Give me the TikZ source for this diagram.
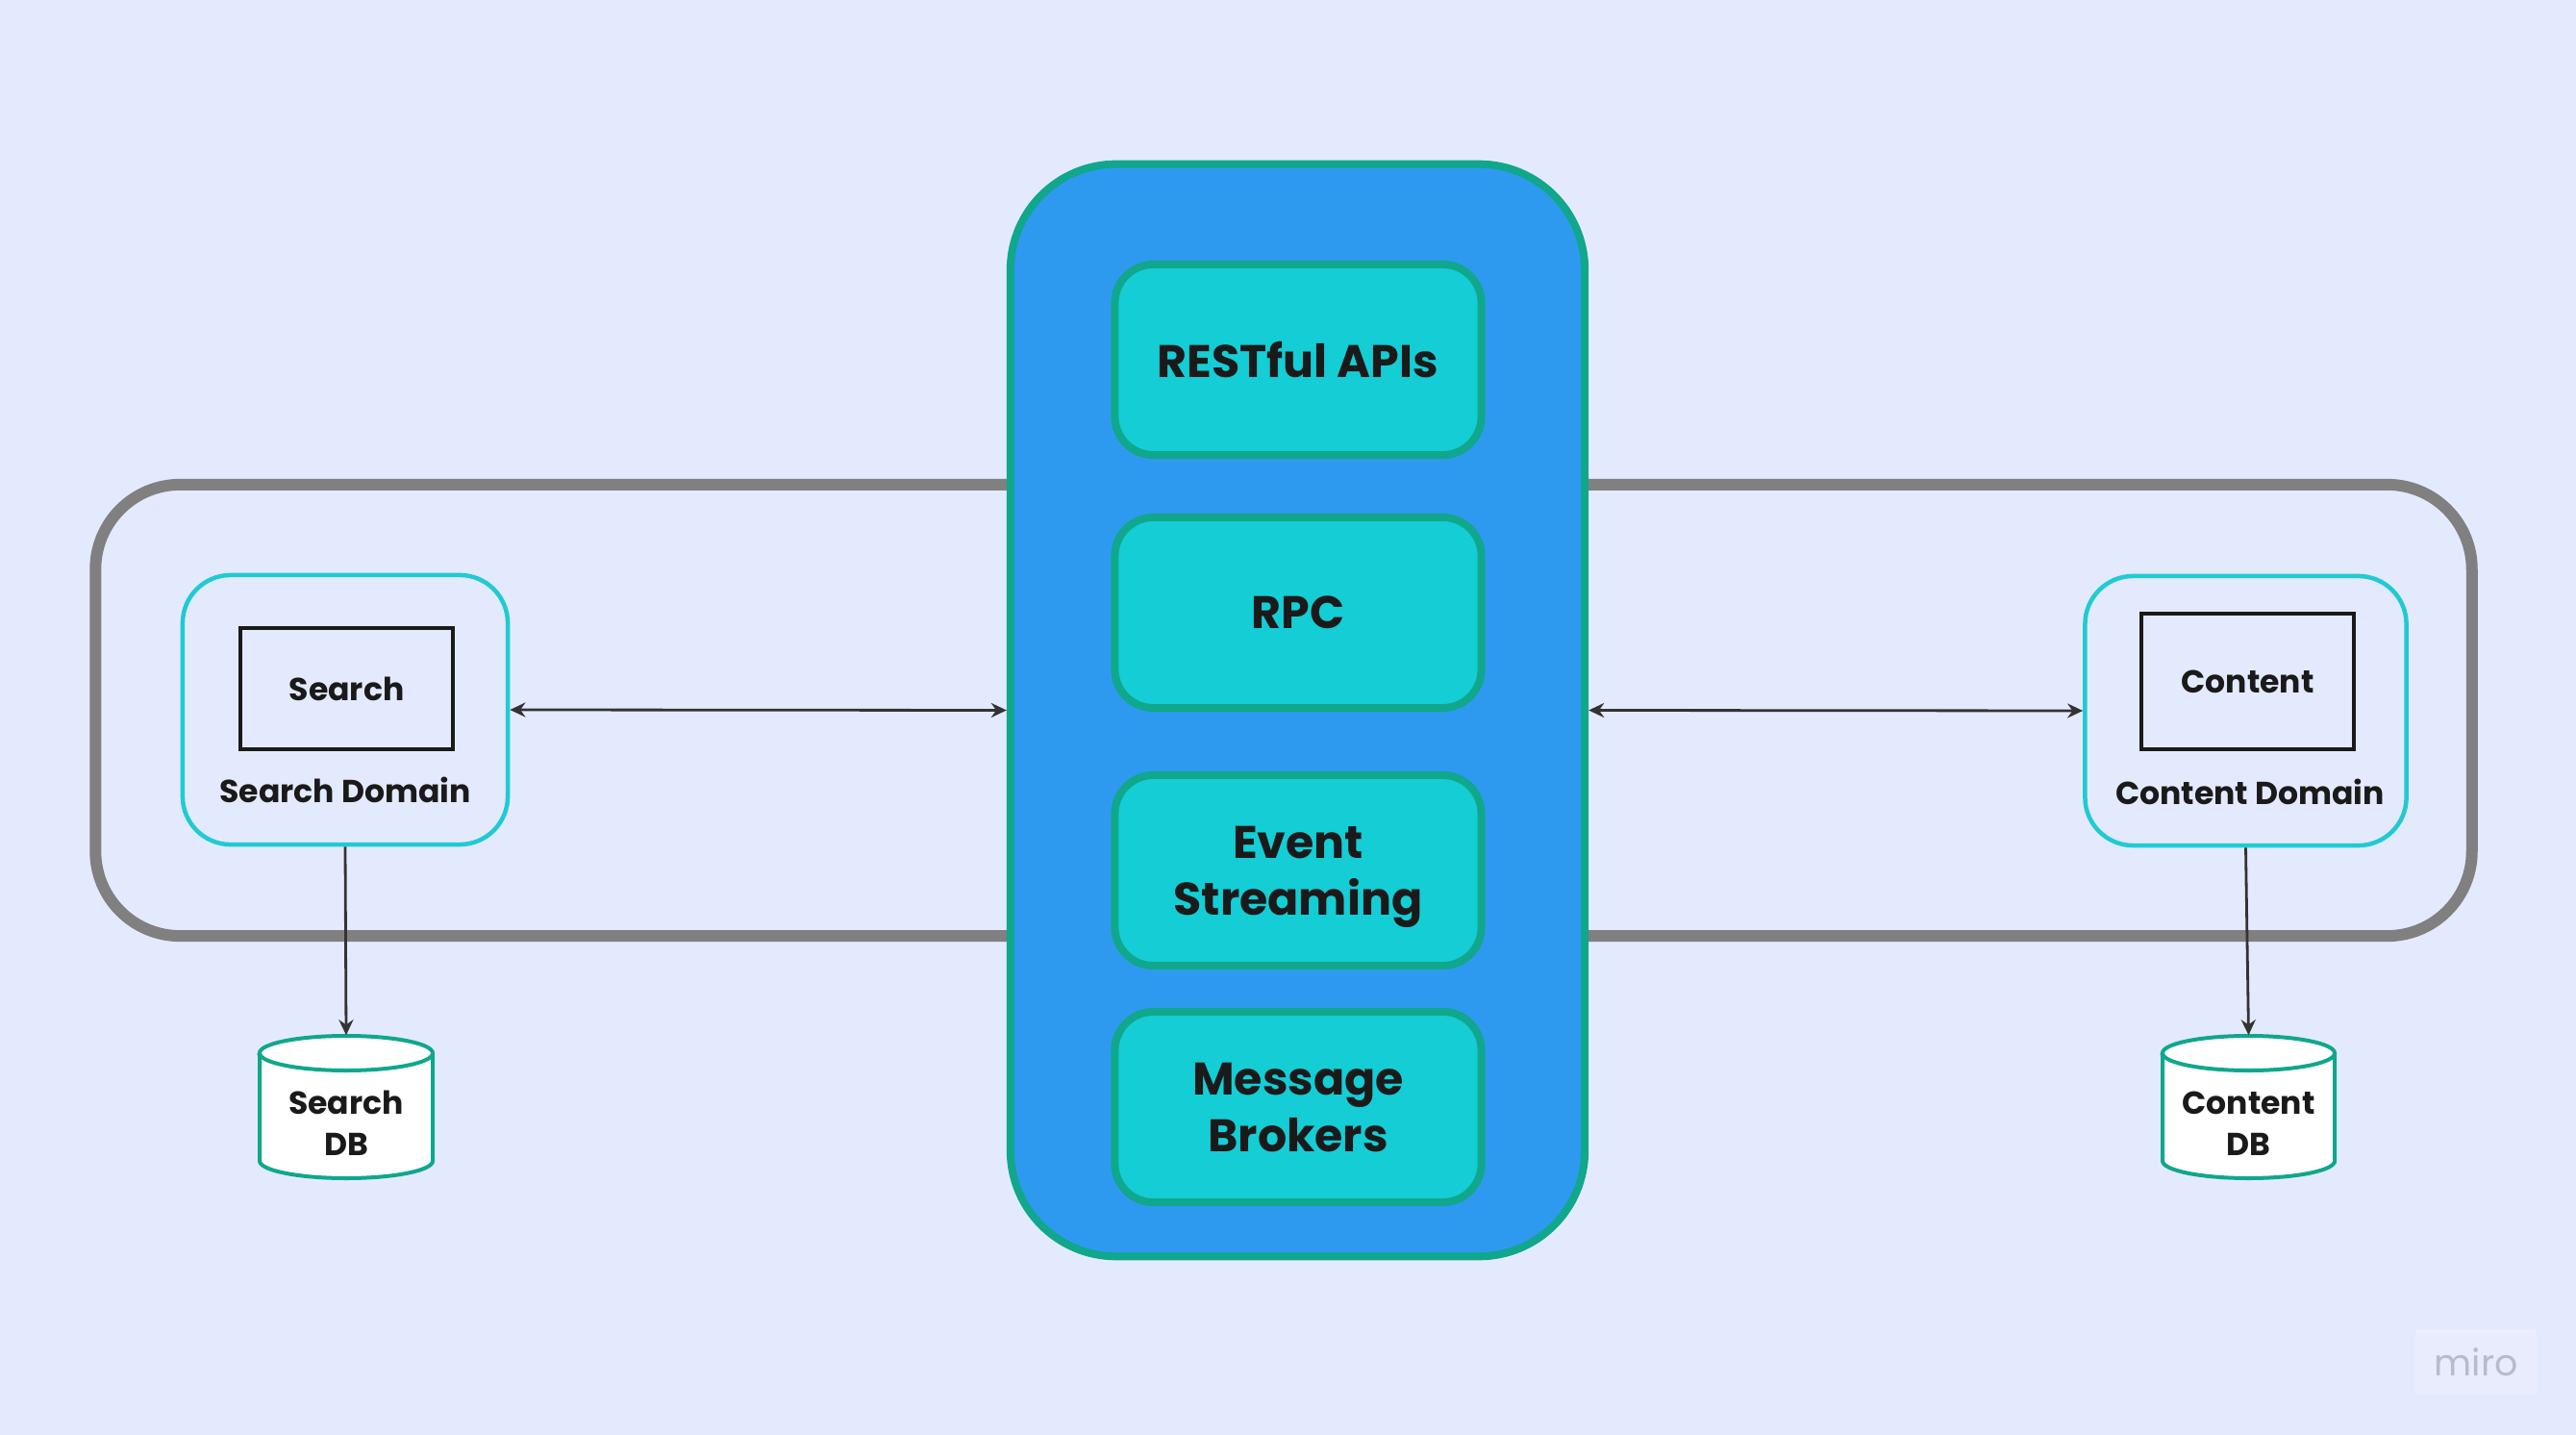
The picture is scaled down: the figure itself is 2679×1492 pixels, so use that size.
\documentclass[tikz,border=0pt]{standalone}
\usepackage{fontspec}
\setmainfont{Poppins}
\usetikzlibrary{arrows.meta}
\definecolor{bgc}{HTML}{E4EAFD}
\definecolor{greyc}{HTML}{808080}
\definecolor{bluef}{HTML}{2E9AEF}
\definecolor{tealb}{HTML}{10A78C}
\definecolor{cyanf}{HTML}{14CDD5}
\definecolor{cyanb}{HTML}{20CAD5}
\definecolor{txtc}{HTML}{1A1A1A}
\definecolor{arrc}{HTML}{333333}
\definecolor{miroBox}{HTML}{E9ECFD}
\definecolor{miroTxt}{HTML}{B7BBCA}
\newcommand\ProtoFnt{\fontsize{13.5}{16.8}\selectfont\bfseries}
\newcommand\LblFnt{\fontsize{9.4}{12.2}\selectfont\bfseries}
\newcommand\WmFnt{\fontsize{10.8}{12}\selectfont}
\begin{document}
\begin{tikzpicture}[x=0.01cm,y=-0.01cm,
  outerbox/.style={draw=greyc, line width=0.12cm, rounded corners=0.88cm, minimum width=24.70cm, minimum height=4.69cm, inner sep=0},
  container/.style={draw=tealb, fill=bluef, line width=0.08cm, rounded corners=1.1cm, minimum width=5.97cm, minimum height=11.35cm, inner sep=0},
  proto/.style={draw=tealb, fill=cyanf, line width=0.08cm, rounded corners=0.4cm, minimum width=3.81cm, minimum height=1.98cm, align=center, text=txtc, font=\ProtoFnt, inner sep=0, text depth=0pt},
  domainbox/.style={draw=cyanb, line width=0.045cm, rounded corners=0.5cm, minimum height=2.80cm, inner sep=0},
  svc/.style={draw=txtc, line width=0.035cm, minimum width=2.21cm, inner sep=0, font=\LblFnt, text=txtc},
  lbl/.style={font=\LblFnt, text=txtc, inner sep=0},
  dbtext/.style={font=\LblFnt, text=txtc, align=center, inner sep=0},
  cyl/.style={draw=tealb, fill=white, line width=0.04cm},
  holder/.style={inner sep=0, minimum width=1.80cm, minimum height=1.48cm},
  link/.style={draw=arrc, line width=0.028cm, >={Stealth[length=0.16cm,width=0.15cm]}, <->},
  down/.style={draw=arrc, line width=0.028cm, >={Stealth[length=0.16cm,width=0.15cm]}, ->},
]
\fill[bgc] (0,0) rectangle (2679,1492);
\useasboundingbox (0,0) rectangle (2679,1492);

% outer domain band
\node[outerbox] (outer) at (1335,738.5) {};

% central communication container
\node[container] (hub) at (1349.5,738.5) {};
\node[proto] (rest) at (1350,374) {RESTful APIs};
\node[proto] (rpc) at (1350,637) {RPC};
\node[proto] (event) at (1350,905) {Event\\Streaming};
\node[proto] (msg) at (1350,1151) {Message\\Brokers};

% search domain
\node[domainbox, minimum width=3.38cm] (sd) at (359,738) {};
\node[svc, minimum height=1.26cm] (ss) at (360.5,716) {Search};
\node[lbl] (sdl) at (359,821) {Search Domain};

% content domain
\node[domainbox, minimum width=3.34cm] (cd) at (2335.5,739) {};
\node[svc, minimum height=1.41cm] (cs) at (2337.5,708.5) {Content};
\node[lbl] (cdl) at (2340,823) {Content Domain};

% search DB cylinder
\node[holder] (sdb) at (360,1151) {};
\draw[cyl] (270,1095) -- (270,1207) arc (180:360:0.9cm and 0.18cm) -- (450,1095) arc (0:180:0.9cm and 0.18cm) -- cycle;
\draw[cyl, fill=none] (270,1095) arc (180:360:0.9cm and 0.18cm);
\node[dbtext] (sdbt) at (360,1168) {Search\\DB};

% content DB cylinder
\node[holder, minimum width=1.79cm] (cdb) at (2338.5,1151) {};
\draw[cyl] (2249,1095) -- (2249,1207) arc (180:360:0.895cm and 0.18cm) -- (2428,1095) arc (0:180:0.895cm and 0.18cm) -- cycle;
\draw[cyl, fill=none] (2249,1095) arc (180:360:0.895cm and 0.18cm);
\node[dbtext] (cdbt) at (2338.5,1168) {Content\\DB};

% connectors
\draw[link] (sd.east) -- (hub.west);
\draw[link] (hub.east) -- (cd.west);
\draw[down] (sd.south) -- (sdb.north);
\draw[down] (cd.south) -- (cdb.north);

% watermark
\node[fill=miroBox, minimum width=1.26cm, minimum height=0.68cm, inner sep=0, text=miroTxt, font=\WmFnt] (wm) at (2575,1416) {miro};
\end{tikzpicture}
\end{document}
